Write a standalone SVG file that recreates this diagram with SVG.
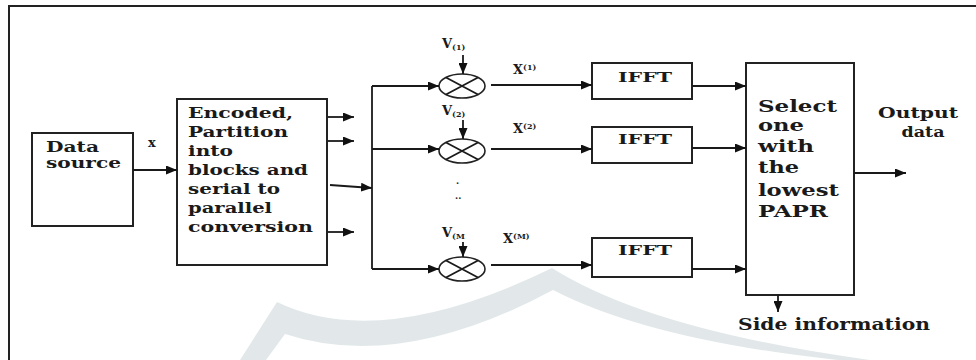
<svg xmlns="http://www.w3.org/2000/svg" width="976" height="360" viewBox="0 0 976 360">
<defs>
<marker id="ah" markerUnits="userSpaceOnUse" markerWidth="11" markerHeight="9" refX="11" refY="4.5" orient="auto">
<path d="M0,0 L11,4.5 L0,9 Z" fill="#111"/>
</marker>
<style>
.box{fill:#fff;stroke:#222;stroke-width:2}
.ln{fill:none;stroke:#1a1a1a;stroke-width:1.8}
.ar{fill:none;stroke:#1a1a1a;stroke-width:1.8;marker-end:url(#ah)}
.t{font-family:"DejaVu Serif","Liberation Serif",serif;font-weight:bold;fill:#1a1a1a}
.m{font-size:14px}
.l{font-size:16px}
.s{font-size:12px}
.v{font-size:13px}
.xs{font-size:8px}
.mul{fill:#fff;stroke:#222;stroke-width:1.6}
</style>
</defs>
<rect x="0" y="0" width="976" height="360" fill="#fff"/>
<path d="M277,302 Q380,352 552,268 Q650,330 870,360 L838,360 Q650,340 553,290 Q400,372 285,334 L266,360 L240,360 Z" fill="#e2e8ea"/>
<path d="M9,360 L9,6 L976,6" fill="none" stroke="#222" stroke-width="2"/>

<g id="data-source">
<rect class="box" x="32" y="133" width="101" height="93"/>
<text class="t m" x="46" y="152" textLength="53" lengthAdjust="spacingAndGlyphs">Data</text>
<text class="t m" x="46" y="168" textLength="75" lengthAdjust="spacingAndGlyphs">source</text>
</g>

<g id="encoder">
<rect class="box" x="177" y="99" width="150" height="166"/>
<text class="t m" x="188" y="118" textLength="105" lengthAdjust="spacingAndGlyphs">Encoded,</text>
<text class="t m" x="188" y="137" textLength="100" lengthAdjust="spacingAndGlyphs">Partition</text>
<text class="t m" x="188" y="156" textLength="45" lengthAdjust="spacingAndGlyphs">into</text>
<text class="t m" x="188" y="175" textLength="120" lengthAdjust="spacingAndGlyphs">blocks and</text>
<text class="t m" x="188" y="194" textLength="92" lengthAdjust="spacingAndGlyphs">serial to</text>
<text class="t m" x="188" y="213" textLength="84" lengthAdjust="spacingAndGlyphs">parallel</text>
<text class="t m" x="188" y="232" textLength="125" lengthAdjust="spacingAndGlyphs">conversion</text>
</g>

<g id="mult1">
<ellipse class="mul" cx="462" cy="86" rx="23" ry="12"/>
<path class="ln" d="M446,77.5 L478,94.5 M446,94.5 L478,77.5" stroke-width="1.3"/>
</g>
<g id="mult2">
<ellipse class="mul" cx="462" cy="151" rx="23" ry="12"/>
<path class="ln" d="M446,142.5 L478,159.5 M446,159.5 L478,142.5" stroke-width="1.3"/>
</g>
<g id="multM">
<ellipse class="mul" cx="462" cy="269" rx="23" ry="12"/>
<path class="ln" d="M446,260.5 L478,277.5 M446,277.5 L478,260.5" stroke-width="1.3"/>
</g>

<g id="ifft1">
<rect class="box" x="592" y="63" width="100" height="36"/>
<text class="t s" x="618" y="82" textLength="54" lengthAdjust="spacingAndGlyphs">IFFT</text>
</g>
<g id="ifft2">
<rect class="box" x="592" y="127" width="100" height="36"/>
<text class="t s" x="618" y="144" textLength="54" lengthAdjust="spacingAndGlyphs">IFFT</text>
</g>
<g id="ifftM">
<rect class="box" x="592" y="238" width="100" height="39"/>
<text class="t s" x="618" y="255" textLength="54" lengthAdjust="spacingAndGlyphs">IFFT</text>
</g>

<g id="select">
<rect class="box" x="746" y="63" width="108" height="232"/>
<text class="t l" x="758" y="112" textLength="79" lengthAdjust="spacingAndGlyphs">Select</text>
<text class="t l" x="758" y="131" textLength="46" lengthAdjust="spacingAndGlyphs">one</text>
<text class="t l" x="758" y="152" textLength="56" lengthAdjust="spacingAndGlyphs">with</text>
<text class="t l" x="758" y="173" textLength="41" lengthAdjust="spacingAndGlyphs">the</text>
<text class="t l" x="758" y="196" textLength="81" lengthAdjust="spacingAndGlyphs">lowest</text>
<text class="t l" x="758" y="217" textLength="70" lengthAdjust="spacingAndGlyphs">PAPR</text>
</g>

<g id="labels">
<text class="t v" x="148" y="147">x</text>
<text class="t v" x="442" y="48">V<tspan class="xs" dy="2">(1)</tspan></text>
<text class="t v" x="442" y="115">V<tspan class="xs" dy="2">(2)</tspan></text>
<text class="t v" x="442" y="237">V<tspan class="xs" dy="2">(M</tspan></text>
<text class="t v" x="513" y="74">X<tspan class="xs" dy="-4">(1)</tspan></text>
<text class="t v" x="513" y="133">X<tspan class="xs" dy="-4">(2)</tspan></text>
<text class="t v" x="503" y="243">X<tspan class="xs" dy="-4">(M)</tspan></text>
<text class="t" x="456" y="184" font-size="9" fill="#888">.</text>
<text class="t" x="455" y="199" font-size="9" fill="#888">..</text>
<text class="t m" x="918" y="118" text-anchor="middle" textLength="80" lengthAdjust="spacingAndGlyphs">Output</text>
<text class="t m" x="923" y="137" text-anchor="middle" textLength="43" lengthAdjust="spacingAndGlyphs">data</text>
<text class="t l" x="738" y="330" textLength="192" lengthAdjust="spacingAndGlyphs">Side information</text>
</g>

<g id="connectors">
<line class="ar" x1="133" y1="170" x2="177" y2="170"/>
<line class="ar" x1="328" y1="117" x2="354" y2="117"/>
<line class="ar" x1="328" y1="141" x2="354" y2="141"/>
<line class="ar" x1="330" y1="185" x2="372" y2="188"/>
<line class="ar" x1="328" y1="232" x2="354" y2="232"/>
<path class="ln" d="M372,86 L372,269"/>
<line class="ar" x1="372" y1="86" x2="439" y2="86"/>
<line class="ar" x1="372" y1="149" x2="439" y2="149"/>
<line class="ar" x1="372" y1="269" x2="439" y2="269"/>
<line class="ar" x1="463" y1="55" x2="463" y2="74"/>
<line class="ar" x1="463" y1="120" x2="463" y2="139"/>
<line class="ar" x1="463" y1="242" x2="463" y2="257"/>
<line class="ar" x1="491" y1="85" x2="592" y2="85"/>
<line class="ar" x1="491" y1="149" x2="592" y2="149"/>
<line class="ar" x1="491" y1="265" x2="592" y2="265"/>
<line class="ar" x1="692" y1="86" x2="746" y2="86"/>
<line class="ar" x1="692" y1="148" x2="746" y2="148"/>
<line class="ar" x1="692" y1="269" x2="746" y2="269"/>
<line class="ar" x1="854" y1="173" x2="906" y2="173"/>
<line class="ar" x1="778" y1="295" x2="778" y2="312"/>
</g>
</svg>
